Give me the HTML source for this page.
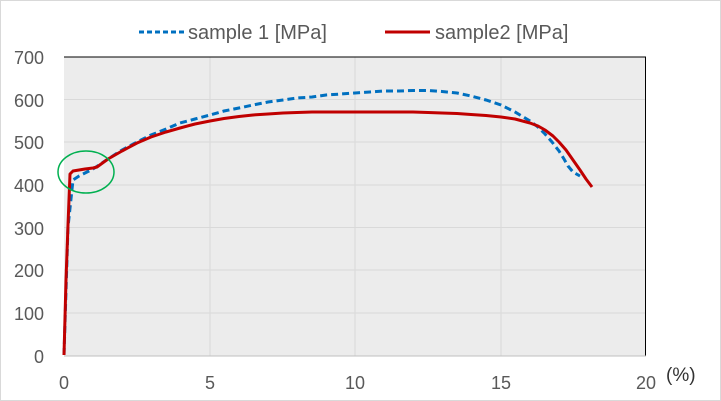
<!DOCTYPE html>
<html><head><meta charset="utf-8"><style>
html,body{margin:0;padding:0;background:#fff;}
svg{display:block;font-family:"Liberation Sans",sans-serif;}
</style></head><body>
<svg width="721" height="401" xmlns="http://www.w3.org/2000/svg">
<rect x="0.5" y="0.5" width="720" height="400" fill="#fff" stroke="#d9d9d9"/>
<rect x="64" y="57" width="582" height="299" fill="#ececec"/>
<g stroke="#d9d9d9" stroke-width="1">
<line x1="64" y1="99.5" x2="646" y2="99.5"/><line x1="64" y1="142" x2="646" y2="142"/>
<line x1="64" y1="185" x2="646" y2="185"/><line x1="64" y1="227.5" x2="646" y2="227.5"/>
<line x1="64" y1="270" x2="646" y2="270"/><line x1="64" y1="313" x2="646" y2="313"/>
<line x1="210" y1="57" x2="210" y2="356"/><line x1="355" y1="57" x2="355" y2="356"/><line x1="501" y1="57" x2="501" y2="356"/>
</g>
<line x1="64" y1="57" x2="646" y2="57" stroke="#000"/>
<line x1="645.5" y1="57" x2="645.5" y2="356" stroke="#000"/>
<line x1="64" y1="356" x2="646" y2="356" stroke="#bfbfbf"/>
<g fill="#595959" font-size="18" text-anchor="end">
<text x="44" y="64">700</text><text x="44" y="107">600</text><text x="44" y="149">500</text>
<text x="44" y="192">400</text><text x="44" y="235">300</text><text x="44" y="277">200</text>
<text x="44" y="320">100</text><text x="44" y="363">0</text>
</g>
<g fill="#595959" font-size="18" text-anchor="middle">
<text x="64" y="389">0</text><text x="210" y="389">5</text><text x="355" y="389">10</text>
<text x="501" y="389">15</text><text x="646" y="389">20</text>
</g>
<text x="666" y="381" font-size="19" fill="#333">(%)</text>
<polyline fill="none" stroke="#0070c0" stroke-width="3" stroke-dasharray="7,4" points="64,355 68,227 73,180 79,176 93,169 108,159 122,150 137,142 151,135 166,129 180,123 195,119 210,115 224,111 239,108 253,105 268,102 283,100 297,98 312,97 326,95 341,94 355,93 370,92 384,91 399,91 413,90.5 428,90.5 442,91.5 457,93 471,96 486,100 501,105 515,112 530,121 538,127 545,134 552,142 559,151 564,159 568,166 573,172 580,176"/>
<polyline fill="none" stroke="#c00000" stroke-width="3" stroke-linejoin="round" points="64,355 66,280 68,225 70,174 73,171 79,170 85,169 93,168 97,167 108,159 122,151 137,143 151,137 166,132 180,128 195,124 210,121 224,118.5 239,116.5 253,115 268,114 283,113 297,112.5 312,112 326,112 355,112 384,112 413,112 428,112.5 442,113 457,113.5 471,114.5 486,115.5 501,117 515,119 530,123 538,126 545,130 553,136 559,142 566,150 573,160 580,170 586,179 592,187"/>
<ellipse cx="86" cy="172" rx="28" ry="21" fill="none" stroke="#00b050" stroke-width="1.5"/>
<line x1="139" y1="32" x2="184" y2="32" stroke="#0070c0" stroke-width="3" stroke-dasharray="5,3"/>
<text x="188" y="39" font-size="20" fill="#595959">sample 1 [MPa]</text>
<line x1="385" y1="32" x2="430" y2="32" stroke="#c00000" stroke-width="3"/>
<text x="435" y="39" font-size="20" fill="#595959">sample2 [MPa]</text>
</svg>
</body></html>
